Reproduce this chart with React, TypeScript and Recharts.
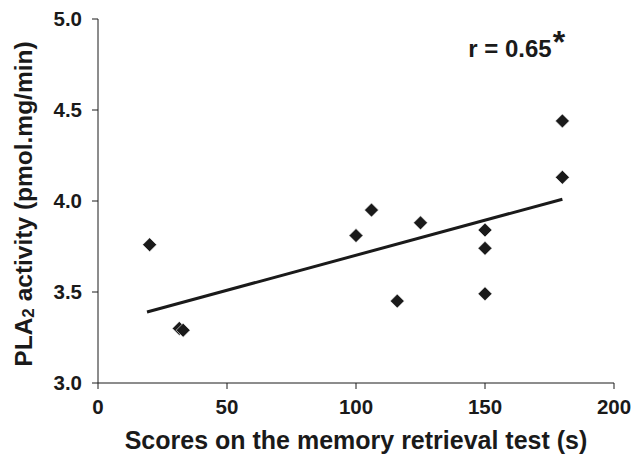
import { ScatterChart, Scatter, XAxis, YAxis, ReferenceLine, ReferenceDot } from 'recharts';

// memory retrieval score (s) vs PLA2 activity
const scores = [20, 31.5, 33, 100, 106, 116, 125, 150, 150, 150, 180, 180];
const activity = [3.76, 3.3, 3.29, 3.81, 3.95, 3.45, 3.88, 3.84, 3.74, 3.49, 4.13, 4.44];

// regression line end points
const fitX = [19, 180];
const fitY = [3.39, 4.01];

const xTicks = [0, 50, 100, 150, 200];
const yTicks = [3.0, 3.5, 4.0, 4.5, 5.0];

const rLabel = 'r = 0.65';
const rPos = { x: 143.5, y: 4.79 };

const font = '"Liberation Sans", Arial, Helvetica, sans-serif';
const ink = '#1a1a1a';

const points = scores.map((s, i) => ({ x: s, y: activity[i] }));

const Diamond = (props: any) => {
  const { cx, cy } = props;
  const h = 7;
  return (
    <path
      d={`M${cx},${cy - h} L${cx + h},${cy} L${cx},${cy + h} L${cx - h},${cy} Z`}
      fill={ink}
      stroke="#fff"
      strokeWidth={0.6}
    />
  );
};

const YTitle = (props: any) => {
  const vb = props.viewBox || {};
  const cy = vb.y + vb.height / 2 + 3;
  const cx = 23;
  return (
    <text
      x={cx}
      y={cy}
      transform={`rotate(-90, ${cx}, ${cy})`}
      textAnchor="middle"
      dominantBaseline="central"
      fontFamily={font}
      fontWeight="bold"
      fontSize={24.5}
      fill={ink}
    >
      PLA
      <tspan fontSize={17} dy={5}>2</tspan>
      <tspan dy={-5}> activity (pmol.mg/min)</tspan>
    </text>
  );
};

const RText = (props: any) => {
  const { cx, cy } = props;
  return (
    <text x={cx} y={cy} fontFamily={font} fontWeight="bold" fontSize={24} fill={ink}>
      {rLabel}
      <tspan fontSize={32} dy={-4} dx={1}>*</tspan>
    </text>
  );
};

export default function App() {
  return (
    <div style={{ width: 632, height: 454, background: '#fff' }}>
      <style>{'body{margin:0}'}</style>
      <ScatterChart width={632} height={454} margin={{ top: 19, right: 18, bottom: 0, left: 0 }}>
        <XAxis
          type="number"
          dataKey="x"
          domain={[0, 200]}
          ticks={xTicks}
          height={71}
          tickSize={6}
          tickMargin={10}
          stroke={ink}
          tick={{ fill: ink, fontSize: 20.5, fontWeight: 'bold', fontFamily: font }}
          label={{
            value: 'Scores on the memory retrieval test (s)',
            position: 'insideBottom',
            offset: 5,
            fill: ink,
            fontSize: 25,
            fontWeight: 'bold',
            fontFamily: font,
          }}
        />
        <YAxis
          type="number"
          dataKey="y"
          domain={[3, 5]}
          ticks={yTicks}
          width={98}
          tickSize={6}
          tickMargin={10}
          stroke={ink}
          tickFormatter={(v: number) => v.toFixed(1)}
          tick={{ fill: ink, fontSize: 20.5, fontWeight: 'bold', fontFamily: font }}
          label={<YTitle />}
        />
        <ReferenceLine
          segment={[
            { x: fitX[0], y: fitY[0] },
            { x: fitX[1], y: fitY[1] },
          ]}
          stroke={ink}
          strokeWidth={3}
        />
        <Scatter data={points} shape={<Diamond />} isAnimationActive={false} />
        <ReferenceDot x={rPos.x} y={rPos.y} r={0} shape={<RText />} />
      </ScatterChart>
    </div>
  );
}
